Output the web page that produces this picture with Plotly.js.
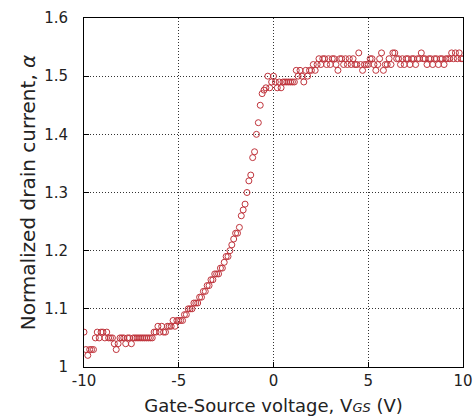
<!DOCTYPE html>
<html>
<head>
<meta charset="utf-8">
<script src="https://cdn.plot.ly/plotly-3.0.1.min.js"></script>
<style>html,body{margin:0;padding:0;background:#fff;}#chart{width:476px;height:419px;}</style>
</head>
<body>
<div id="chart"></div>
<script>
// Gate-source voltage (V), step 0.1 from -10 to 10
const vgs = [];
for (let i = 0; i <= 200; i++) vgs.push(Math.round((-10 + i * 0.1) * 10) / 10);

// Normalized drain current
const alphaLow = [ // -10.0 .. -0.1
  1.06,1.03,1.02,1.03,1.03,1.03,1.05,1.06,1.05,1.06,
  1.06,1.05,1.06,1.05,1.05,1.05,1.04,1.03,1.04,1.05,
  1.05,1.05,1.04,1.05,1.05,1.04,1.05,1.05,1.05,1.05,
  1.05,1.05,1.05,1.05,1.05,1.05,1.05,1.06,1.06,1.07,
  1.06,1.07,1.06,1.06,1.07,1.07,1.07,1.08,1.07,1.08,
  1.08,1.08,1.08,1.09,1.09,1.10,1.10,1.10,1.11,1.11,
  1.11,1.12,1.12,1.13,1.13,1.14,1.14,1.15,1.15,1.16,
  1.16,1.16,1.17,1.17,1.18,1.19,1.19,1.20,1.21,1.22,
  1.23,1.23,1.24,1.26,1.27,1.28,1.30,1.32,1.33,1.36,
  1.37,1.40,1.42,1.45,1.47,1.476,1.48,1.50,1.48,1.49
];
const alphaHigh = [ // 0.0 .. 10.0
  1.50,1.49,1.48,1.49,1.48,1.49,1.49,1.49,1.49,1.49,
  1.49,1.49,1.51,1.50,1.51,1.50,1.49,1.51,1.50,1.51,
  1.51,1.52,1.51,1.52,1.53,1.52,1.53,1.53,1.52,1.53,
  1.52,1.53,1.53,1.52,1.51,1.53,1.53,1.52,1.53,1.52,
  1.53,1.52,1.53,1.52,1.52,1.54,1.52,1.51,1.52,1.52,
  1.52,1.53,1.53,1.52,1.51,1.52,1.53,1.54,1.51,1.52,
  1.52,1.53,1.52,1.54,1.54,1.53,1.53,1.52,1.53,1.52,
  1.53,1.53,1.52,1.53,1.53,1.52,1.53,1.53,1.54,1.53,
  1.53,1.52,1.53,1.53,1.52,1.53,1.53,1.52,1.53,1.53,
  1.52,1.53,1.53,1.53,1.54,1.53,1.54,1.53,1.54,1.53,
  1.53
];
const alpha = alphaLow.concat(alphaHigh);

const xTicks = [-10, -5, 0, 5, 10];
const yTicks = [1, 1.1, 1.2, 1.3, 1.4, 1.5, 1.6];
const yTickText = ['1', '1.1', '1.2', '1.3', '1.4', '1.5', '1.6'];

const fontFam = 'DejaVu Sans, Liberation Sans, sans-serif';

Plotly.newPlot('chart', [{
  x: vgs, y: alpha,
  type: 'scatter', mode: 'markers',
  marker: {symbol: 'circle-open', size: 6, color: '#c0343c', line: {width: 1}},
  hoverinfo: 'skip'
}], {
  width: 476, height: 419,
  margin: {l: 84, r: 13, t: 18, b: 52},
  paper_bgcolor: '#fff', plot_bgcolor: '#fff',
  showlegend: false,
  font: {family: fontFam, color: '#222', size: 15},
  xaxis: {
    range: [-10, 10], tickvals: xTicks, ticktext: xTicks.map(String),
    ticks: 'inside', ticklen: 5, tickcolor: '#000',
    showline: true, linecolor: '#000', linewidth: 1, mirror: true,
    showgrid: true, gridcolor: '#333', griddash: '1px,2px', gridwidth: 1,
    zeroline: false, automargin: false,
    tickfont: {size: 15, family: fontFam},
    title: {text: 'Gate-Source voltage, V<span style="font-size:13px"><i>GS</i></span> (V)', font: {size: 18, family: fontFam}, standoff: 10}
  },
  yaxis: {
    range: [1, 1.6], tickvals: yTicks, ticktext: yTickText,
    ticks: 'inside', ticklen: 5, tickcolor: '#000',
    showline: true, linecolor: '#000', linewidth: 1, mirror: true,
    showgrid: true, gridcolor: '#333', griddash: '1px,2px', gridwidth: 1,
    zeroline: false, automargin: false,
    ticklabelstandoff: 12,
    tickfont: {size: 15, family: fontFam},
    title: {text: 'Normalized drain current, <i>α</i>', font: {size: 20, family: fontFam}, standoff: 3}
  }
}, {displayModeBar: false, staticPlot: true});
</script>
</body>
</html>
